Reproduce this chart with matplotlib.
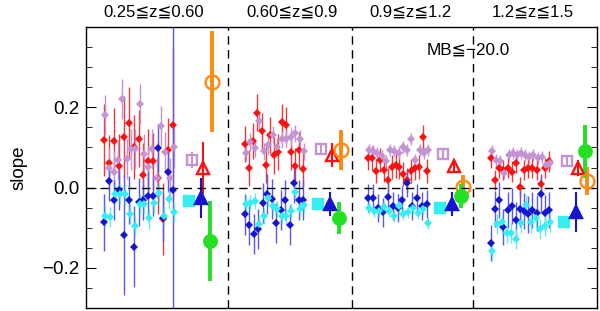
import numpy as np
import matplotlib
matplotlib.use('Agg')
import matplotlib.pyplot as plt
from matplotlib.ticker import MultipleLocator

plt.rcParams['font.family'] = ['Liberation Sans', 'DejaVu Sans']

zLabels = ['0.25≦z≦0.60', '0.60≦z≦0.9', '0.9≦z≦1.2', '1.2≦z≦1.5']
magLabel = 'MB≦−20.0'

# individual points, one list per redshift bin
redVals = [
    [0.119, 0.062, 0.117, 0.053, 0.127, 0.161, 0.102, 0.122, 0.032, 0.065, 0.065, 0.024, -0.079, 0.094, 0.157],
    [0.108, 0.049, 0.117, 0.187, 0.140, 0.057, 0.131, 0.080, 0.088, 0.164, 0.156, 0.088, 0.053, 0.094, 0.046],
    [0.073, 0.073, 0.042, 0.068, 0.044, 0.020, 0.052, 0.055, 0.052, 0.034, 0.018, 0.042, 0.049, 0.052, 0.125, 0.042],
    [0.073, 0.020, 0.048, 0.044, 0.048, 0.040, 0.061, 0.002, 0.044, 0.048, 0.048, 0.044, 0.010, 0.048, 0.065],
]
redErr = [
    [0.09, 0.07, 0.08, 0.08, 0.10, 0.09, 0.08, 0.07, 0.08, 0.08, 0.07, 0.09, 0.09, 0.08, 0.19],
    0.045, 0.03, 0.025,
]
violetVals = [
    [0.181, 0.049, 0.040, 0.069, 0.221, 0.072, 0.095, 0.096, 0.209, 0.083, 0.052, 0.096, 0.023, 0.153, 0.088, 0.024, 0.100],
    [0.087, 0.114, 0.098, 0.166, 0.090, 0.106, 0.132, 0.101, 0.120, 0.122, 0.126, 0.135, 0.122, 0.090],
    [0.094, 0.090, 0.086, 0.078, 0.065, 0.094, 0.090, 0.086, 0.102, 0.094, 0.122, 0.069, 0.094, 0.086, 0.094],
    [0.092, 0.069, 0.065, 0.036, 0.081, 0.085, 0.081, 0.085, 0.081, 0.077, 0.081, 0.073, 0.077, 0.057, 0.061],
]
violetErr = [0.05, 0.022, 0.015, 0.015]
blueVals = [
    [-0.087, 0.016, -0.031, -0.005, -0.118, -0.031, -0.147, -0.035, -0.030, -0.021, -0.021, 0.098, -0.075, 0.040, -0.005],
    [-0.067, -0.093, -0.116, -0.104, -0.038, -0.017, -0.028, -0.089, -0.055, -0.030, -0.094, 0.012, -0.030, -0.030],
    [-0.025, -0.025, -0.050, -0.062, -0.023, -0.046, -0.050, -0.030, 0.012, -0.046, -0.025, -0.046, -0.042],
    [-0.139, -0.053, -0.030, -0.098, -0.055, -0.046, -0.080, -0.053, -0.059, -0.067, -0.055, -0.063, -0.017, -0.063, -0.055],
]
blueErr = [
    [0.07, 0.05, 0.05, 0.05, 0.15, 0.06, 0.10, 0.06, 0.05, 0.06, 0.05, 0.06, 0.06, 0.05, 0.70],
    0.05, 0.035, 0.045,
]
cyanVals = [
    [-0.071, -0.073, -0.017, -0.017, -0.017, -0.066, -0.095, -0.040, -0.042, -0.077, -0.038, -0.013, -0.071, -0.029, -0.062],
    [-0.040, -0.038, -0.034, -0.091, -0.071, -0.025, -0.046, -0.054, -0.071, -0.071, -0.058, -0.012, -0.054, -0.044],
    [-0.050, -0.058, -0.058, -0.048, -0.058, -0.071, -0.046, -0.067, -0.061, -0.050, -0.063, -0.054, -0.088],
    [-0.157, -0.091, -0.087, -0.112, -0.112, -0.128, -0.089, -0.044, -0.087, -0.075, -0.104, -0.095, -0.085],
]
cyanErr = [0.025, 0.02, 0.015, 0.025]

# summary values, one per redshift bin
violetSq = [0.069, 0.095, 0.083, 0.065]
violetSqErr = [0.02, 0.015, 0.01, 0.01]
redTri = [0.049, 0.081, 0.053, 0.048]
redTriErr = [0.065, 0.03, 0.015, 0.02]
orangeCirc = [0.264, 0.094, 0.001, 0.016]
orangeCircErr = [0.125, 0.05, 0.03, 0.035]
cyanSq = [-0.034, -0.042, -0.051, -0.086]
cyanSqErr = [0.01, 0.01, 0.01, 0.01]
blueTri = [-0.026, -0.042, -0.042, -0.061]
blueTriErr = [0.05, 0.03, 0.03, 0.05]
greenCirc = [-0.133, -0.075, -0.021, 0.090]
greenCircErr = [0.10, 0.04, 0.03, 0.065]

RED = '#ff1010'
VIOLET = '#c493d4'
BLUE = '#1414d2'
CYAN = '#33eef2'
ORANGE = '#ff8a12'
GREEN = '#22e022'

# layout of the bins along x
galRange = [(18, 87), (159, 217), (282, 341), (405, 463)]
sumBase = [103, 232, 354, 478]
separators = [142, 266, 387]
labelX = [68, 206, 324, 447]


def drawPoints(ax, vals, errs, color, ecolor, shift):
    """ draws the individual diamond points of one colour in every bin """
    for i, v in enumerate(vals):
        lo, hi = galRange[i]
        x = np.linspace(lo, hi, len(v)) + shift
        ax.errorbar(x, v, yerr=errs[i], fmt='D', color=color, ecolor=ecolor,
                    ms=3.8, elinewidth=1.0, capsize=0, mew=0)


def drawSummary(ax, vals, errs, offset, marker, color, ms, filled, elw):
    for i, v in enumerate(vals):
        x = sumBase[i] + offset
        ax.errorbar([x], [v], yerr=[errs[i]], fmt=marker, color=color, ms=ms,
                    mfc=color if filled else 'none', mew=1.7, elinewidth=elw,
                    capsize=0)


fig = plt.figure(figsize=(6, 3.11), dpi=100)
ax = fig.add_axes([86 / 600, 1 - 308 / 311, 511 / 600, 281 / 311])

drawPoints(ax, redVals, redErr, RED, '#e83a3a', 0)
drawPoints(ax, violetVals, violetErr, VIOLET, VIOLET, 1)
drawPoints(ax, blueVals, blueErr, BLUE, '#5a5ae6', 0)
drawPoints(ax, cyanVals, cyanErr, CYAN, '#6ae6f0', 1)

drawSummary(ax, violetSq, violetSqErr, 3, 's', VIOLET, 7.5, False, 1.5)
drawSummary(ax, cyanSq, cyanSqErr, 0, 's', CYAN, 7, True, 1.5)
drawSummary(ax, redTri, redTriErr, 14, '^', RED, 9, False, 1.5)
drawSummary(ax, blueTri, blueTriErr, 12, '^', BLUE, 9, True, 1.5)
drawSummary(ax, orangeCirc, orangeCircErr, 23, 'o', ORANGE, 10, False, 2.8)
drawSummary(ax, greenCirc, greenCircErr, 21, 'o', GREEN, 9, True, 2.8)

for s in separators:
    ax.axvline(s, color='k', lw=1, ls=(0, (6, 4)))
ax.axhline(0, color='k', lw=1, ls=(0, (6, 4)))

for x, lab in zip(labelX, zLabels):
    ax.text(x, 1.053, lab, transform=ax.get_xaxis_transform(), ha='center',
            va='center', fontsize=12)
ax.text(341, 0.918, magLabel, transform=ax.get_xaxis_transform(), ha='left',
        va='center', fontsize=12.3)

ax.set_xlim(0, 511)
ax.set_ylim(-0.3, 0.4)
ax.set_xticks([])
ax.set_yticks([-0.2, 0.0, 0.2])
ax.set_yticklabels(['\u22120.2', '0.0', '0.2'])
ax.yaxis.set_minor_locator(MultipleLocator(0.05))
ax.tick_params(axis='y', which='both', direction='in', left=True, right=True,
               labelsize=13.5, pad=5)
ax.tick_params(axis='y', which='major', length=7)
ax.tick_params(axis='y', which='minor', length=4)
ax.set_ylabel('slope', fontsize=13.5, labelpad=10)
for sp in ax.spines.values():
    sp.set_linewidth(1)

fig.savefig('out.png', dpi=100)
